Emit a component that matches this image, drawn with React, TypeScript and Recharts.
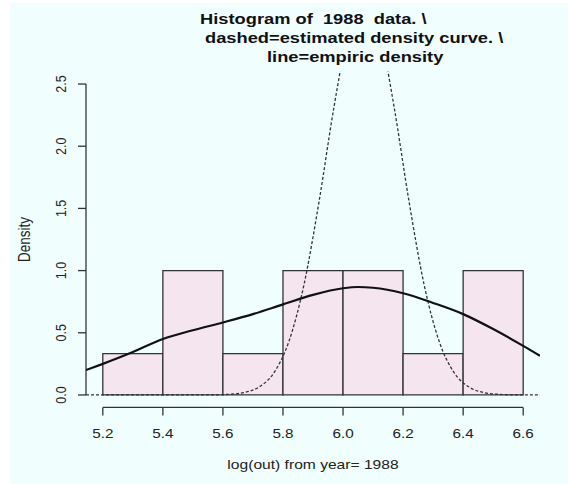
import React from "react";
import {
  ComposedChart,
  Line,
  XAxis,
  YAxis,
  ReferenceArea,
  ReferenceLine,
} from "recharts";

// ---- data ----
const BIN_EDGES = [5.2, 5.4, 5.6, 5.8, 6.0, 6.2, 6.4, 6.6];
const BIN_DENSITY = [0.333, 1.0, 0.333, 1.0, 1.0, 0.333, 1.0];

const X_TICKS = [5.2, 5.4, 5.6, 5.8, 6.0, 6.2, 6.4, 6.6];
const Y_TICKS = [0, 0.5, 1.0, 1.5, 2.0, 2.5];

// empiric (kernel) density — solid line
const EMP_X = [5.144, 5.2, 5.3, 5.4, 5.5, 5.6, 5.7, 5.8, 5.9, 6.0, 6.05, 6.1, 6.2, 6.3, 6.4, 6.5, 6.6, 6.656];
const EMP_Y = [0.2, 0.25, 0.345, 0.45, 0.52, 0.583, 0.65, 0.728, 0.805, 0.858, 0.868, 0.862, 0.818, 0.74, 0.65, 0.53, 0.395, 0.315];

// estimated (normal) density — dashed line
const EST_X = [5.144, 5.3, 5.45, 5.57, 5.62, 5.67, 5.72, 5.77, 5.82, 5.87, 5.92, 5.97, 6.02, 6.07, 6.12, 6.17, 6.22, 6.27, 6.32, 6.37, 6.42, 6.47, 6.52, 6.57, 6.656];
const EST_Y = [0, 0, 0, 0.001, 0.005, 0.019, 0.063, 0.179, 0.432, 0.887, 1.553, 2.317, 2.945, 3.19, 2.945, 2.317, 1.553, 0.887, 0.432, 0.179, 0.063, 0.019, 0.005, 0.001, 0];

const TITLE_LINES = [
  "Histogram of  1988  data. \\",
  "dashed=estimated density curve. \\",
  "line=empiric density",
];
const X_LABEL = "log(out) from year= 1988";
const Y_LABEL = "Density";

const X_DOMAIN: [number, number] = [5.144, 6.656];
const Y_DOMAIN: [number, number] = [-0.1, 2.6];

const empData = EMP_X.map((x, i) => ({ x, y: EMP_Y[i] }));
const estData = EST_X.map((x, i) => ({ x, y: EST_Y[i] }));

const FONT = "'Liberation Sans', Arial, Helvetica, sans-serif";
const SX = 1.22;

const XTick = (props: any) => {
  const { x, payload } = props;
  return (
    <text
      transform={`translate(${x},437.5) scale(${SX},1)`}
      textAnchor="middle"
      fontFamily={FONT}
      fontSize={12.5}
      fill="#222"
    >
      {Number(payload.value).toFixed(1)}
    </text>
  );
};

const YTick = (props: any) => {
  const { y, payload } = props;
  return (
    <text
      transform={`translate(65.5,${y}) scale(${SX},1) rotate(-90)`}
      textAnchor="middle"
      fontFamily={FONT}
      fontSize={12.5}
      fill="#222"
    >
      {Number(payload.value).toFixed(1)}
    </text>
  );
};

export default function App() {
  const titleX = [200, 205, 267];
  const titleY = [24, 43, 62];
  return (
    <div
      style={{
        position: "absolute",
        left: 0,
        top: 0,
        width: 568,
        height: 484,
        background: "#ffffff",
        overflow: "hidden",
      }}
    >
      <div
        style={{
          position: "absolute",
          left: 10,
          top: 3,
          width: 558,
          height: 481,
          background: "#f0fefe",
        }}
      />
      <div style={{ position: "absolute", left: 0, top: 0 }}>
        <ComposedChart
          width={568}
          height={484}
          margin={{ top: 71.6, right: 28, left: 56, bottom: 36.6 }}
        >
          <XAxis
            type="number"
            dataKey="x"
            domain={X_DOMAIN}
            ticks={X_TICKS}
            interval={0}
            allowDataOverflow
            axisLine={false}
            tickLine={{ stroke: "#333", strokeWidth: 1.3 }}
            tickSize={8}
            tickMargin={0}
            height={40}
            tick={<XTick />}
          />
          <YAxis
            type="number"
            dataKey="y"
            domain={Y_DOMAIN}
            ticks={Y_TICKS}
            interval={0}
            allowDataOverflow
            axisLine={false}
            tickLine={{ stroke: "#333", strokeWidth: 1.3 }}
            tickSize={8}
            tickMargin={0}
            width={30}
            tick={<YTick />}
          />
          {BIN_DENSITY.map((d, i) => (
            <ReferenceArea
              key={i}
              x1={BIN_EDGES[i]}
              x2={BIN_EDGES[i + 1]}
              y1={0}
              y2={d}
              fill="#f4e5ef"
              fillOpacity={1}
              stroke="#333"
              strokeWidth={1.3}
              ifOverflow="visible"
            />
          ))}
          <ReferenceLine
            segment={[
              { x: X_TICKS[0], y: Y_DOMAIN[0] },
              { x: X_TICKS[X_TICKS.length - 1], y: Y_DOMAIN[0] },
            ]}
            stroke="#333"
            strokeWidth={1.3}
            ifOverflow="visible"
          />
          <ReferenceLine
            segment={[
              { x: X_DOMAIN[0], y: Y_TICKS[0] },
              { x: X_DOMAIN[0], y: Y_TICKS[Y_TICKS.length - 1] },
            ]}
            stroke="#333"
            strokeWidth={1.3}
            ifOverflow="visible"
          />
          <Line
            data={estData}
            dataKey="y"
            type="monotone"
            stroke="#333"
            strokeWidth={1.3}
            strokeDasharray="3 2"
            dot={false}
            isAnimationActive={false}
          />
          <Line
            data={empData}
            dataKey="y"
            type="monotone"
            stroke="#111"
            strokeWidth={2.2}
            dot={false}
            isAnimationActive={false}
          />
        </ComposedChart>
      </div>
      <svg
        width={568}
        height={484}
        style={{ position: "absolute", left: 0, top: 0, pointerEvents: "none" }}
      >
        {TITLE_LINES.map((t, i) => (
          <text
            key={i}
            transform={`translate(${titleX[i]},${titleY[i]}) scale(${SX},1)`}
            fontFamily={FONT}
            fontWeight="bold"
            fontSize={15}
            fill="#111"
            style={{ whiteSpace: "pre" }}
          >
            {t}
          </text>
        ))}
        <text
          transform={`translate(313,469) scale(${SX},1)`}
          textAnchor="middle"
          fontFamily={FONT}
          fontSize={12.8}
          fill="#222"
          style={{ whiteSpace: "pre" }}
        >
          {X_LABEL}
        </text>
        <text
          transform={`translate(30,239.5) scale(${SX},1) rotate(-90)`}
          textAnchor="middle"
          fontFamily={FONT}
          fontSize={13.5}
          fill="#222"
        >
          {Y_LABEL}
        </text>
      </svg>
    </div>
  );
}
